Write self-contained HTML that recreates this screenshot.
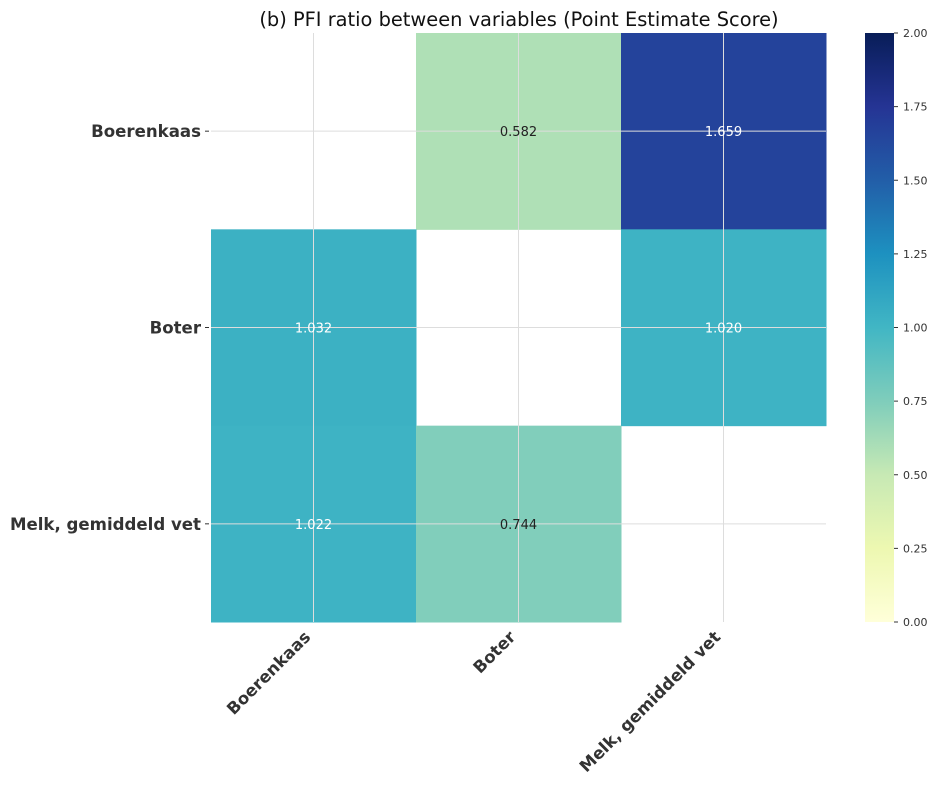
<!DOCTYPE html>
<html><head><meta charset="utf-8"><style>
body{margin:0;background:#fff;font-family:"DejaVu Sans","Liberation Sans",sans-serif}
svg text{font-family:"DejaVu Sans","Liberation Sans",sans-serif}
</style></head><body>
<svg id="c" width="939" height="790" xmlns="http://www.w3.org/2000/svg">
<defs><linearGradient id="g" x1="0" y1="1" x2="0" y2="0">
<stop offset="0" stop-color="#ffffd9"/><stop offset="0.125" stop-color="#edf8b1"/><stop offset="0.25" stop-color="#c7e9b4"/><stop offset="0.375" stop-color="#7fcdbb"/><stop offset="0.5" stop-color="#41b6c4"/><stop offset="0.625" stop-color="#1d91c0"/><stop offset="0.75" stop-color="#225ea8"/><stop offset="0.875" stop-color="#253494"/><stop offset="1" stop-color="#081d58"/>
</linearGradient></defs>
<text x="519" y="26" font-size="19.4" text-anchor="middle" fill="#111">(b) PFI ratio between variables (Point Estimate Score)</text>
</svg>
<script>
const categories=["Boerenkaas","Boter","Melk, gemiddeld vet"];
const values=[[null,0.582,1.659],[1.032,null,1.020],[1.022,0.744,null]];
const cbTicks=[0,0.25,0.5,0.75,1,1.25,1.5,1.75,2];
const vmin=0,vmax=2;
const stops=["#ffffd9","#edf8b1","#c7e9b4","#7fcdbb","#41b6c4","#1d91c0","#225ea8","#253494","#081d58"];
const svg=document.getElementById('c');const NS="http://www.w3.org/2000/svg";
const L=211,R=826,T=33,B=622;
const cw=(R-L)/categories.length,ch=(B-T)/categories.length;
const xs=i=>L+i*cw, ys=i=>T+i*ch;
function hex(h){return [1,3,5].map(k=>parseInt(h.substr(k,2),16));}
function color(v){let t=(v-vmin)/(vmax-vmin)*(stops.length-1);let i=Math.min(Math.floor(t),stops.length-2);let f=t-i;let a=hex(stops[i]),b=hex(stops[i+1]);return `rgb(${a.map((x,k)=>Math.round(x+(b[k]-x)*f)).join(',')})`;}
function el(tag,attrs,txt){const e=document.createElementNS(NS,tag);for(const k in attrs)e.setAttribute(k,attrs[k]);if(txt!==undefined)e.textContent=txt;svg.appendChild(e);return e;}
values.forEach((row,r)=>row.forEach((v,c)=>{if(v===null)return;
const e=el('rect',{x:xs(c),y:ys(r),width:cw+0.5,height:ch+0.5,fill:color(v)});

}));
categories.forEach((n,i)=>{
const gx=el('line',{x1:xs(i)+cw/2,x2:xs(i)+cw/2,y1:T,y2:B,stroke:'#ddd','stroke-width':1});


const gy=el('line',{x1:L,x2:R,y1:ys(i)+ch/2,y2:ys(i)+ch/2,stroke:'#ddd','stroke-width':1});


const tk=el('line',{x1:L-6,x2:L-2,y1:ys(i)+ch/2,y2:ys(i)+ch/2,stroke:'#333'});


const yl=el('text',{x:L-10,y:ys(i)+ch/2+6,'font-size':16.6,'font-weight':'bold','text-anchor':'end',fill:'#333'},n);


const xx=xs(i)+cw/2-2,yy=B+16;
const xl=el('text',{x:xx,y:yy,'font-size':16.6,'font-weight':'bold','text-anchor':'end',fill:'#333',transform:`rotate(-45 ${xx} ${yy})`},n);

});
values.forEach((row,r)=>row.forEach((v,c)=>{if(v===null)return;
const t=el('text',{x:xs(c)+cw/2,y:ys(r)+ch/2+5,'font-size':13,'text-anchor':'middle',fill:(v-vmin)/(vmax-vmin)>0.4?'#fff':'#222'},v.toFixed(3));

}));
const cbx=865,cbw=29;
const cb=el('rect',{x:cbx,y:T,width:cbw,height:B-T,fill:'url(#g)'});


cbTicks.forEach(v=>{const y=B-(v-vmin)/(vmax-vmin)*(B-T);
const l=el('line',{x1:cbx+cbw,x2:cbx+cbw+4,y1:y,y2:y,stroke:'#333'});


const t=el('text',{x:cbx+cbw+9,y:y+4,'font-size':11,fill:'#333'},v.toFixed(2));

});
</script>
</body></html>
